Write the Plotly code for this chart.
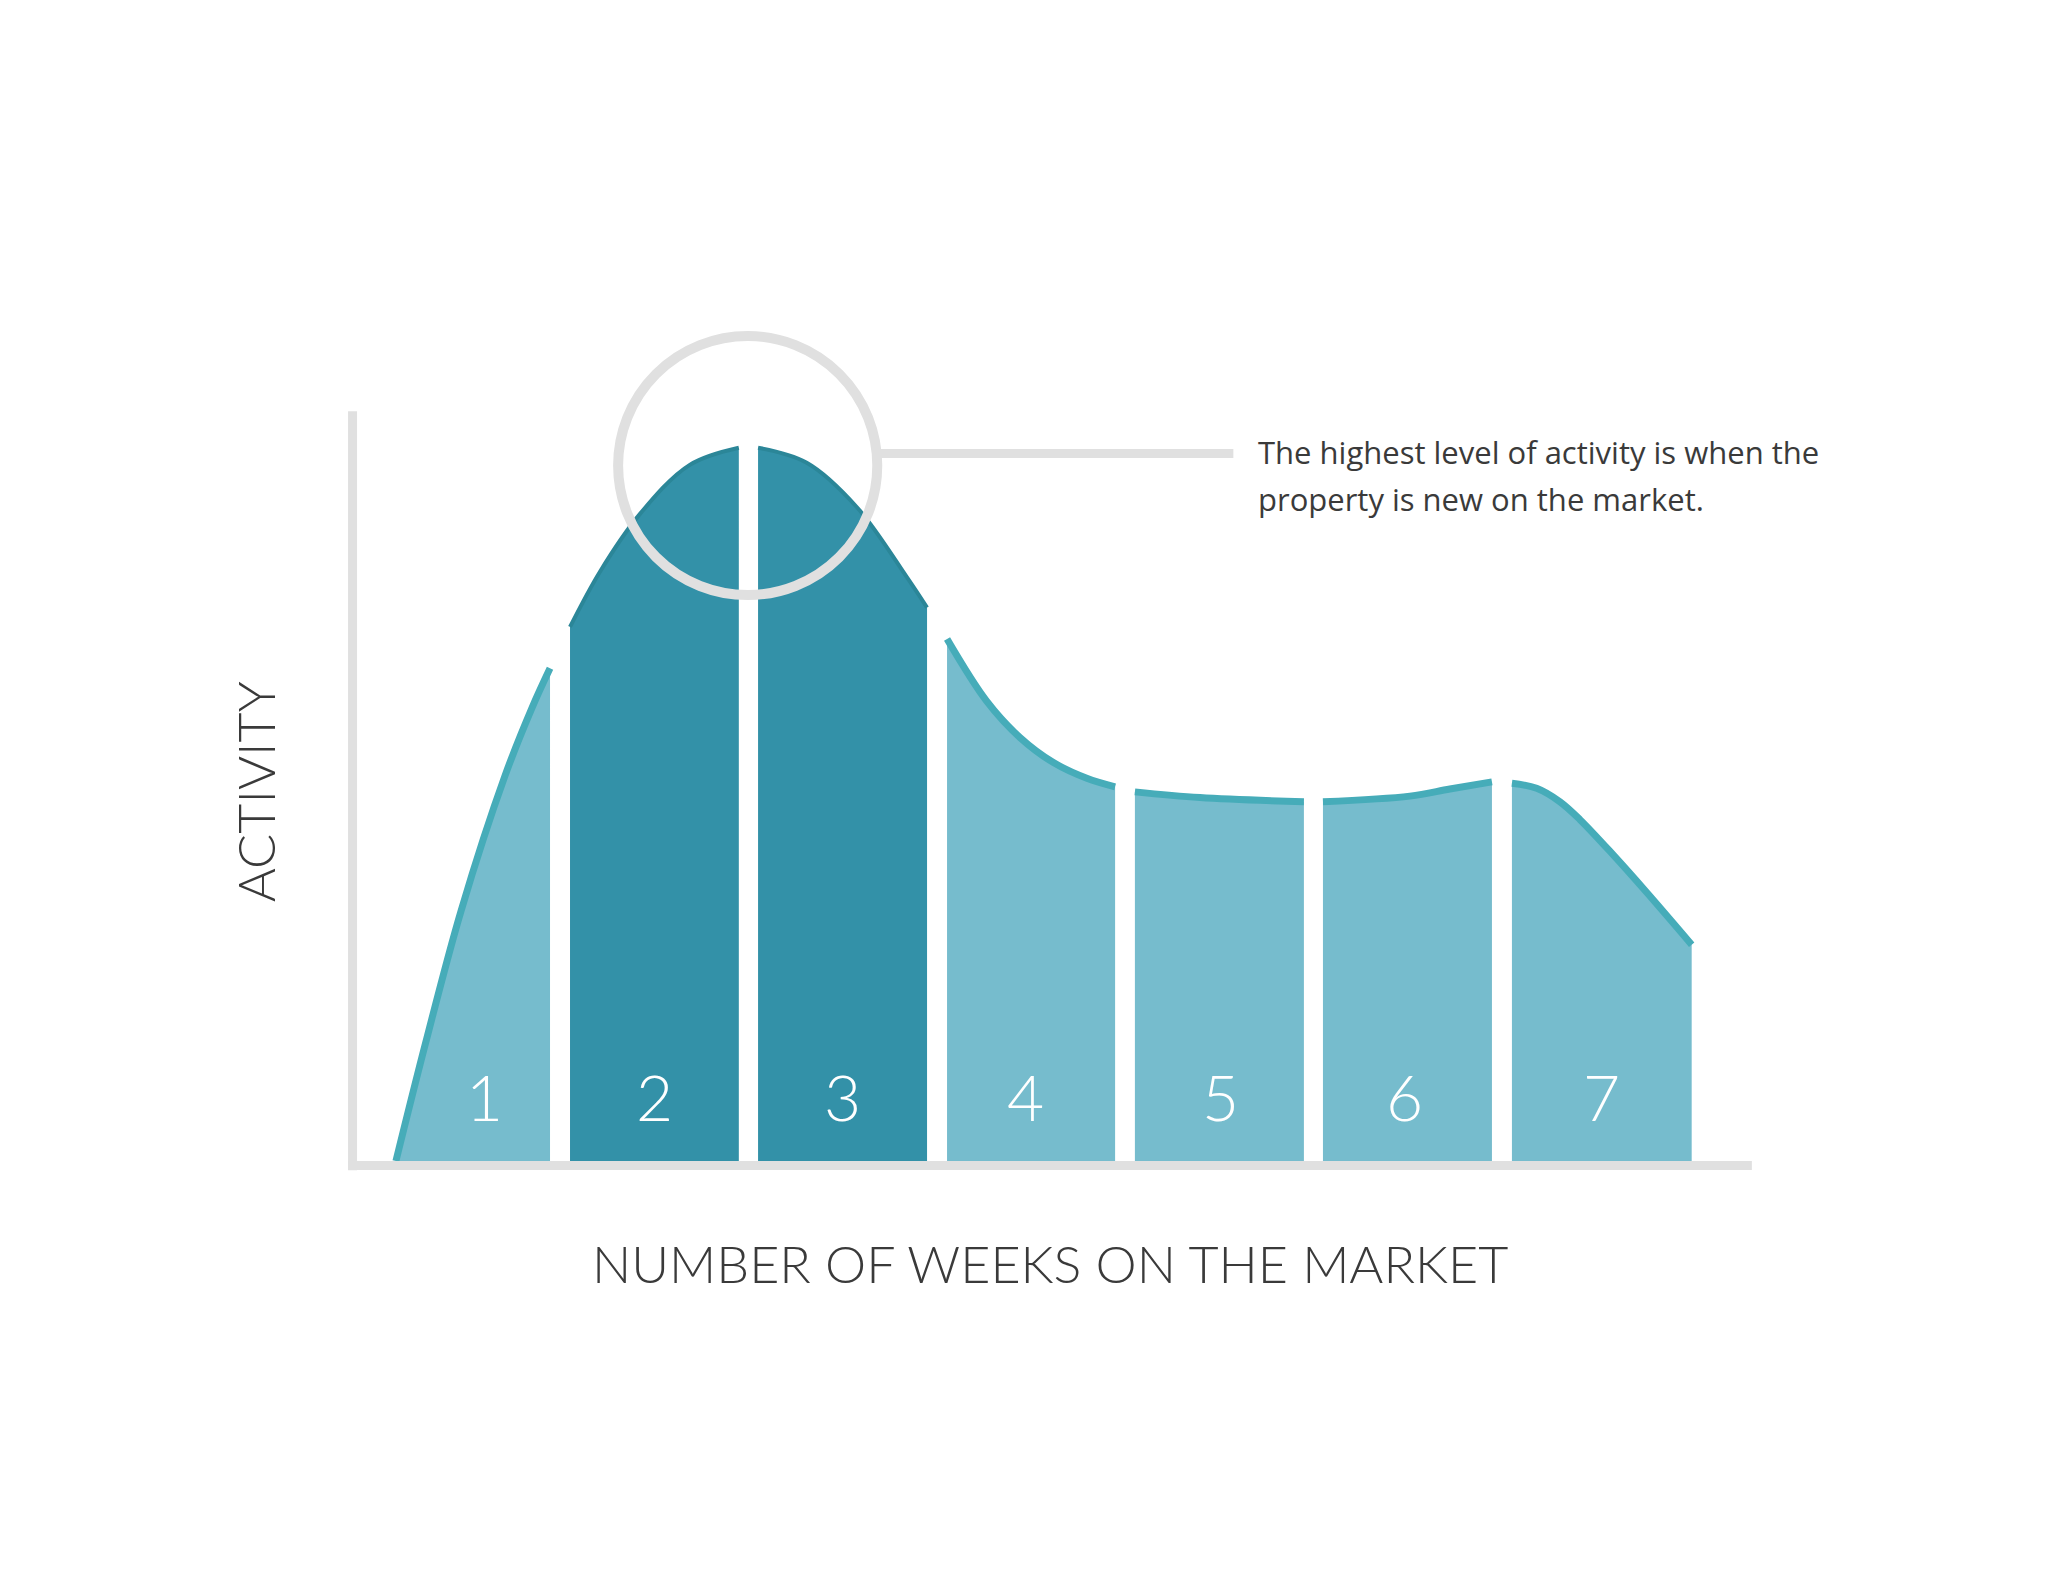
import plotly.graph_objects as go

# ---- data (x in weeks, y = activity, peak = 100) ----
weeks = [1, 2, 3, 4, 5, 6, 7]
week_labels = ["1", "2", "3", "4", "5", "6", "7"]
highlight_weeks = [2, 3]

curve_x = [0.130, 0.287, 0.476, 0.709, 0.852, 0.947,
           1.053, 1.211, 1.423, 1.688, 1.948,
           2.050, 2.308, 2.573, 2.838, 2.946,
           3.052, 3.262, 3.439, 3.616, 3.793, 3.943,
           4.048, 4.393, 4.944,
           5.045, 5.506, 5.718, 5.941,
           6.047, 6.178, 6.302, 6.408, 6.583, 6.762, 7.000]
curve_y = [0.0, 16.5, 35.1, 54.0, 63.5, 69.0,
           74.8, 82.5, 90.6, 97.5, 99.9,
           99.9, 97.8, 91.6, 81.8, 77.5,
           73.1, 64.4, 59.3, 55.8, 53.6, 52.4,
           51.7, 50.9, 50.3,
           50.3, 51.1, 52.1, 53.1,
           52.9, 52.2, 50.3, 47.8, 42.9, 37.6, 30.3]

band_start = [0.130, 1.053, 2.050, 3.052, 4.048, 5.045, 6.047]
band_end = [0.947, 1.948, 2.946, 3.943, 4.944, 5.941, 7.000]
label_x = [0.60, 1.50, 2.50, 3.47, 4.50, 5.48, 6.52]

note_lines = ["The highest level of activity is when the",
              "property is new on the market."]
x_title = "NUMBER OF WEEKS ON THE MARKET"
y_title = "ACTIVITY"

# ---- style ----
LIGHT_FILL = "#76bccd"
LIGHT_EDGE = "#46acb9"
DARK_FILL = "#3391a8"
DARK_EDGE = "#2b8698"
GREY = "#e0e0e0"
TEXT = "#3a3a3a"
FONT = "Lato, Inter, 'Open Sans', sans-serif"
NOTE_FONT = "'Open Sans', Lato, sans-serif"

fig = go.Figure()

for w, s, e in zip(weeks, band_start, band_end):
    xs = [x for x in curve_x if s - 1e-9 <= x <= e + 1e-9]
    ys = [y for x, y in zip(curve_x, curve_y) if s - 1e-9 <= x <= e + 1e-9]
    dark = w in highlight_weeks
    fig.add_trace(go.Scatter(
        x=xs, y=ys, mode="lines", fill="tozeroy",
        fillcolor=DARK_FILL if dark else LIGHT_FILL,
        line=dict(color=DARK_EDGE if dark else LIGHT_EDGE,
                  width=4 if dark else 7, shape="spline", smoothing=1.0),
        hoverinfo="skip", showlegend=False))

# axes lines
fig.add_shape(type="line", x0=-0.100, x1=-0.100, y0=-1.3, y1=105.0,
              line=dict(color=GREY, width=9), layer="above")
fig.add_shape(type="line", x0=-0.124, x1=7.319, y0=-0.63, y1=-0.63,
              line=dict(color=GREY, width=9), layer="above")

# highlight circle + leader line
fig.add_shape(type="circle", x0=1.995 - 0.687, x1=1.995 + 0.687,
              y0=97.4 - 18.14, y1=97.4 + 18.14,
              line=dict(color=GREY, width=10), layer="above")
fig.add_shape(type="line", x0=2.69, x1=4.57, y0=99.1, y1=99.1,
              line=dict(color=GREY, width=9), layer="above")

# week numbers
for lx, lab in zip(label_x, week_labels):
    fig.add_annotation(x=lx, y=9.0, text=lab, showarrow=False,
                       font=dict(family=FONT, size=64, color="white", weight=300),
                       xanchor="center", yanchor="middle")

# note text
for i, line in enumerate(note_lines):
    fig.add_annotation(x=4.69, y=99.3 - 6.6 * i, text=line, showarrow=False,
                       font=dict(family=NOTE_FONT, size=31, color=TEXT),
                       xanchor="left", yanchor="middle")

# axis titles
fig.add_annotation(x=3.598, y=-14.3, text=x_title, showarrow=False,
                   font=dict(family=FONT, size=52, color=TEXT, weight=300),
                   xanchor="center", yanchor="middle")
fig.add_annotation(x=-0.619, y=51.75, text=y_title, showarrow=False, textangle=-90,
                   font=dict(family=FONT, size=52, color=TEXT, weight=300),
                   xanchor="center", yanchor="middle")

fig.update_layout(
    width=2048, height=1582,
    margin=dict(l=92, r=108, t=42, b=58),
    paper_bgcolor="white", plot_bgcolor="white",
    xaxis=dict(range=[-1.439, 8.359], visible=False, fixedrange=True),
    yaxis=dict(range=[-51.96, 155.6], visible=False, fixedrange=True),
    showlegend=False,
)

fig.write_html("out.html")
